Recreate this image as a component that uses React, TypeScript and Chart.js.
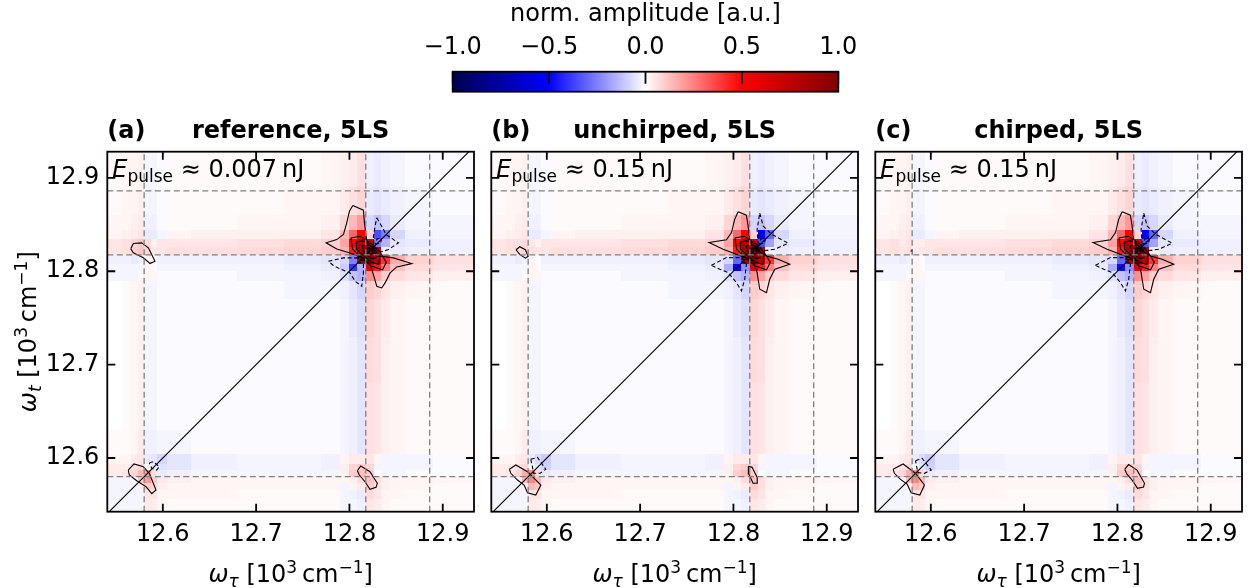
import { useEffect, useRef } from 'react';
import { Chart, registerables } from 'chart.js';
Chart.register(...registerables);

const FONT = '"DejaVu Sans", "Liberation Sans", sans-serif';

// ---------------- data ----------------
const X_LIMITS = [12.5405, 12.9335];
const Y_LIMITS = [12.5425, 12.928];
const TICK_VALUES = [12.6, 12.7, 12.8, 12.9];
const TRANSITION_LINES = [12.58, 12.8175, 12.886];
const DIAGONAL = [12.5, 13.0];
const COLORBAR_TICKS = [-1, -0.5, 0, 0.5, 1];

const PANEL_LETTERS = ['(a)', '(b)', '(c)'];
const PANEL_NAMES = ['reference, 5LS', 'unchirped, 5LS', 'chirped, 5LS'];
const PULSE_ENERGIES = ['0.007', '0.15', '0.15'];

// inner cell edges of the heat map (10^3 cm^-1), same for both axes
const CELL_EDGES = [12.556, 12.566, 12.573, 12.58, 12.587, 12.594, 12.604, 12.63, 12.68, 12.73, 12.77,
  12.79, 12.8, 12.808, 12.8175, 12.826, 12.834, 12.844, 12.86, 12.89];

// amplitude in percent; first row = top (highest omega_t), columns left -> right
const HEAT_A = [
  [1, 2, 2, 3, -2, -2, -1, 1, 1, 1, 1, 2, 3, 4, 6, -3, -4, -3, -2, -1, -1],
  [1, 2, 2, 3, -2, -2, -1, 1, 1, 1, 2, 2, 4, 6, 8, -4, -5, -4, -3, -2, -1],
  [2, 2, 3, 4, -3, -3, -1, 1, 1, 2, 2, 3, 8, 14, 20, -8, -12, -8, -4, -2, -2],
  [2, 3, 4, 5, -4, -4, -2, 2, 3, 3, 3, 5, 14, 30, 50, 8, -35, -25, -8, -3, -2],
  [5, 6, 8, 10, 7, 3, 5, 5, 5, 6, 7, 9, 18, 50, 80, 70, -25, -15, -5, -4, -3],
  [5, 6, 9, 11, 8, 5, 5, 6, 6, 7, 8, 10, 15, 45, 85, 100, 80, -3, -4, -3, -3],
  [-3, -3, -4, -3, 2, -1, -3, -3, -3, -3, -4, -5, -8, -25, 75, 95, 75, 40, 16, 9, 6],
  [-2, -2, -2, -2, 2, 1, -2, -2, -2, -2, -3, -4, -10, -40, -15, 60, 45, 25, 12, 7, 5],
  [-2, -2, -2, -1, 2, 2, -1, -1, -1, -2, -2, -3, -6, -12, -15, 22, 18, 10, 7, 5, 3],
  [0, 1, 2, 3, -2, -2, -1, -1, -1, -1, -2, -2, -3, -5, -8, 10, 8, 5, 3, 2, 1],
  [0, 1, 2, 3, -2, -2, -1, -1, -1, -1, -1, -1, -2, -4, -6, 8, 6, 4, 2, 1, 1],
  [0, 1, 2, 3, -2, -2, -1, -1, -1, -1, -1, -1, -2, -3, -5, 7, 6, 3, 2, 1, 1],
  [0, 1, 2, 3, -2, -2, -1, -1, -1, -1, -1, -1, -2, -3, -5, 6, 5, 3, 2, 1, 1],
  [1, 1, 2, 4, -3, -3, -2, -2, -1, -1, -1, -1, -2, -3, -5, 6, 5, 3, 2, 1, 1],
  [2, 2, 4, 5, -4, -5, -8, -5, -3, -2, -2, -3, 2, 4, 4, 5, 2, -2, -2, -2, -1],
  [4, 4, 6, 8, -2, -4, -6, -5, -3, -2, -2, -3, 3, 8, 10, 8, -2, -2, -2, -2, -1],
  [4, 5, 8, 14, 20, 6, -4, -3, -2, -2, -2, -2, 3, 10, 13, 10, -1, -2, -2, -1, -1],
  [-2, -2, -1, 10, 20, 10, 4, 3, 2, 2, 2, 2, 2, 3, 7, 12, 6, 3, 2, 2, 2],
  [-2, -2, -2, 3, 10, 8, 3, 2, 2, 2, 2, 2, -2, 2, 4, 10, 6, 3, 2, 2, 1],
  [-2, -2, -2, -2, 5, 5, 2, 2, 2, 1, 1, 1, -2, -3, -4, 7, 5, 2, 2, 1, 1],
  [-2, -2, -2, -2, 4, 4, 2, 1, 1, 1, 1, 1, -2, -2, -3, 5, 4, 2, 1, 1, 1],
];
// cells that differ from panel (a): [column, row from bottom, percent]
const EDITS_B = [
  [16, 17, -55], [16, 16, -35], [17, 17, -30], [17, 16, -18], [13, 13, -50], [14, 13, -22], [13, 14, -30],
  [12, 13, -16], [2, 15, 7], [3, 15, 8], [4, 15, 6], [2, 16, 6], [3, 16, 7], [4, 16, 5], [3, 4, 16],
  [4, 4, 24], [4, 3, 24], [5, 3, 14], [3, 3, 13], [4, 2, 14], [5, 2, 10], [6, 5, -9], [6, 6, -10],
  [5, 6, -7], [5, 5, -5],
];
const EDITS_C = [
  [16, 17, -52], [16, 16, -33], [17, 17, -30], [17, 16, -18], [13, 13, -48], [14, 13, -22], [13, 14, -30],
  [12, 13, -16], [2, 15, 5], [3, 15, 6], [4, 15, 4], [2, 16, 4], [3, 16, 5], [4, 16, 4], [3, 4, 16],
  [4, 4, 24], [4, 3, 24], [5, 3, 14], [3, 3, 13], [4, 2, 14], [5, 2, 10], [6, 5, -9], [6, 6, -10],
  [5, 6, -7], [5, 5, -5],
];

// contours (x = omega_tau, y = omega_t)
const A_MAIN_POS = [[12.8036, 12.8704], [12.815, 12.8654], [12.8161, 12.8518], [12.8179, 12.8375], [12.8195, 12.8265],
  [12.8295, 12.8165], [12.8472, 12.8143], [12.8668, 12.8082], [12.8507, 12.8046], [12.8436, 12.7982], [12.8382, 12.7875],
  [12.8346, 12.7821], [12.8293, 12.7839], [12.8257, 12.7964], [12.8221, 12.8071], [12.815, 12.8143], [12.8007, 12.8196],
  [12.7864, 12.8239], [12.775, 12.8304], [12.7864, 12.8339], [12.7936, 12.8393], [12.7971, 12.8518], [12.8, 12.8643]];
const A_MAIN_NEG_UR = [[12.8293, 12.8572], [12.8346, 12.8482], [12.8393, 12.8393], [12.8525, 12.8304], [12.8418, 12.8232],
  [12.8329, 12.8204], [12.8264, 12.8268], [12.8257, 12.8375], [12.8275, 12.8482]];
const A_MAIN_NEG_LL = [[12.7775, 12.8107], [12.7936, 12.8143], [12.8079, 12.8143], [12.815, 12.8107], [12.815, 12.7982],
  [12.8132, 12.7839], [12.8061, 12.7893], [12.8007, 12.7982], [12.7918, 12.8018], [12.7828, 12.8061]];
const B_MAIN_POS = [[12.805, 12.8636], [12.8139, 12.86], [12.8157, 12.8486], [12.8175, 12.8343], [12.8205, 12.8255],
  [12.8354, 12.8164], [12.8479, 12.8129], [12.8604, 12.8075], [12.8443, 12.8021], [12.8389, 12.7914], [12.8354, 12.7771],
  [12.8282, 12.7807], [12.8254, 12.7986], [12.8211, 12.8111], [12.8032, 12.8182], [12.7889, 12.8236], [12.7739, 12.8307],
  [12.7925, 12.8336], [12.7979, 12.8414], [12.8014, 12.8557]];
const B_MAIN_NEG_UR = [[12.8282, 12.8622], [12.8318, 12.8486], [12.8407, 12.8397], [12.8586, 12.83], [12.8443, 12.8236],
  [12.8318, 12.8218], [12.8264, 12.8289], [12.8254, 12.845]];
const B_MAIN_NEG_LL = [[12.7764, 12.8064], [12.7925, 12.8146], [12.8086, 12.8146], [12.8139, 12.8075], [12.8121, 12.7914],
  [12.8086, 12.7789], [12.8032, 12.7878], [12.7943, 12.7986], [12.7854, 12.8021]];
const CORE_RING_1 = [[12.8015, 12.8355], [12.8115, 12.8375], [12.8235, 12.8295], [12.8335, 12.8195], [12.8395, 12.8095],
  [12.8355, 12.8015], [12.8235, 12.8055], [12.8135, 12.8135], [12.8035, 12.8235]];
const CORE_RING_2 = [[12.8075, 12.8315], [12.8155, 12.8325], [12.8255, 12.8255], [12.8325, 12.8155], [12.8315, 12.8075],
  [12.8235, 12.8095], [12.8155, 12.8165], [12.8075, 12.8235]];
const CORE_RING_3 = [[12.8135, 12.8275], [12.8215, 12.8275], [12.8275, 12.8215], [12.8285, 12.8145], [12.8235, 12.8135],
  [12.8165, 12.8195]];
const CORE_RING_4 = [[12.8185, 12.8245], [12.8235, 12.8235], [12.8255, 12.8195], [12.8215, 12.8185]];
const CORE_NEG_LL = [[12.8095, 12.8155], [12.8145, 12.8165], [12.8165, 12.8115], [12.8115, 12.8085]];
const CORE_NEG_UR = [[12.8275, 12.8285], [12.8335, 12.8305], [12.8345, 12.8355], [12.8295, 12.8345]];

const A_CROSS_UL = [[12.5656, 12.824], [12.5684, 12.8297], [12.5774, 12.8304], [12.5845, 12.8251], [12.5916, 12.8107],
  [12.5863, 12.8083], [12.5791, 12.8144], [12.5684, 12.8197]];
const A_DIAG = [[12.563, 12.5871], [12.5691, 12.5936], [12.5791, 12.5907], [12.5855, 12.5836], [12.5927, 12.5657],
  [12.5881, 12.5618], [12.582, 12.5692], [12.572, 12.5757], [12.5641, 12.5818]];
const A_DIAG_NEG = [[12.5855, 12.595], [12.5898, 12.5961], [12.5962, 12.5907], [12.5934, 12.5871], [12.5881, 12.5889]];
const A_CROSS_LR = [[12.8085, 12.5864], [12.8121, 12.5914], [12.822, 12.5853], [12.8299, 12.5729], [12.8285, 12.5686],
  [12.822, 12.5664], [12.8167, 12.5746], [12.8106, 12.5818]];

const B_CROSS_UL = [[12.567, 12.823], [12.571, 12.8262], [12.577, 12.823], [12.58, 12.816], [12.577, 12.814], [12.571, 12.818]];
const B_DIAG = [[12.5599, 12.5879], [12.5668, 12.5925], [12.5793, 12.5853], [12.5936, 12.5711], [12.5882, 12.5603],
  [12.5793, 12.5628], [12.5757, 12.5711], [12.5686, 12.5764], [12.5614, 12.5836]];
const B_DIAG_NEG = [[12.5828, 12.5986], [12.59, 12.6007], [12.5989, 12.5879], [12.5928, 12.5836], [12.5857, 12.5836],
  [12.5846, 12.5907]];
const B_CROSS_LR = [[12.816, 12.591], [12.82, 12.59], [12.8255, 12.579], [12.8255, 12.573], [12.821, 12.573], [12.8165, 12.583]];

const C_CROSS_UL = [[12.579, 12.8225], [12.58, 12.8228], [12.5803, 12.8218], [12.5793, 12.8215]];
const C_DIAG = [[12.5596, 12.5879], [12.5703, 12.5936], [12.5836, 12.5836], [12.5932, 12.5711], [12.5882, 12.5603],
  [12.5789, 12.5628], [12.5746, 12.5721], [12.5675, 12.5771], [12.561, 12.5836]];
const C_DIAG_NEG = [[12.5836, 12.5971], [12.5907, 12.5997], [12.6004, 12.5871], [12.5932, 12.5836], [12.5861, 12.5843]];
const C_CROSS_LR = [[12.8079, 12.588], [12.812, 12.593], [12.821, 12.587], [12.829, 12.573], [12.828, 12.569],
  [12.8215, 12.5675], [12.816, 12.576], [12.81, 12.583]];

// ---------------- helpers ----------------
const SEISMIC = [[0, 0, 0, 76.5], [0.25, 0, 0, 255], [0.5, 255, 255, 255], [0.75, 255, 0, 0], [1, 127.5, 0, 0]];
function seismic(v: number) {
  const t = Math.max(0, Math.min(1, (v + 1) / 2));
  for (let i = 0; i < SEISMIC.length - 1; i++) {
    const a = SEISMIC[i], b = SEISMIC[i + 1];
    if (t <= b[0]) {
      const fr = (t - a[0]) / (b[0] - a[0]);
      const c = [1, 2, 3].map((k) => Math.round(a[k] + (b[k] - a[k]) * fr));
      return `rgb(${c[0]},${c[1]},${c[2]})`;
    }
  }
  return 'rgb(128,0,0)';
}

function applyEdits(base: number[][], edits: number[][]) {
  const g = base.map((r) => r.slice());
  const n = g.length;
  edits.forEach(([c, r, v]) => { g[n - 1 - r][c] = v; });
  return g;
}

const closed = (pts: number[][]) => [...pts, pts[0]].map(([x, y]) => ({ x, y }));

type Run = { text: string; font: string; dy?: number };
function drawRuns(ctx: CanvasRenderingContext2D, runs: Run[], x: number, y: number, center: boolean) {
  let total = 0;
  runs.forEach((r) => { ctx.font = r.font; total += ctx.measureText(r.text).width; });
  let cx = center ? x - total / 2 : x;
  ctx.textAlign = 'left';
  ctx.textBaseline = 'alphabetic';
  runs.forEach((r) => {
    ctx.font = r.font;
    ctx.fillText(r.text, cx, y + (r.dy || 0));
    cx += ctx.measureText(r.text).width;
  });
}
const f = (size: number, style = '') => `${style} ${size}px ${FONT}`.trim();

const PANELS = [
  {
    grid: HEAT_A,
    pos: [A_MAIN_POS, CORE_RING_1, CORE_RING_2, CORE_RING_3, CORE_RING_4, A_CROSS_UL, A_DIAG, A_CROSS_LR],
    neg: [A_MAIN_NEG_UR, A_MAIN_NEG_LL, CORE_NEG_LL, CORE_NEG_UR, A_DIAG_NEG],
  },
  {
    grid: applyEdits(HEAT_A, EDITS_B),
    pos: [B_MAIN_POS, CORE_RING_1, CORE_RING_2, CORE_RING_3, CORE_RING_4, B_CROSS_UL, B_DIAG, B_CROSS_LR],
    neg: [B_MAIN_NEG_UR, B_MAIN_NEG_LL, CORE_NEG_LL, CORE_NEG_UR, B_DIAG_NEG],
  },
  {
    grid: applyEdits(HEAT_A, EDITS_C),
    pos: [B_MAIN_POS, CORE_RING_1, CORE_RING_2, CORE_RING_3, CORE_RING_4, C_CROSS_UL, C_DIAG, C_CROSS_LR],
    neg: [B_MAIN_NEG_UR, B_MAIN_NEG_LL, CORE_NEG_LL, CORE_NEG_UR, C_DIAG_NEG],
  },
];

// layout (pixels)
const FRAME_LEFTS = [107.3, 491.5, 875.5];
const Y_AXIS_W = 107.3;
const CANVAS_W = 480;
const CANVAS_H = 488;
const CANVAS_TOP = 100;

function makePanelChart(canvas: HTMLCanvasElement, idx: number) {
  const p = PANELS[idx];
  const xe = [X_LIMITS[0], ...CELL_EDGES, X_LIMITS[1]];
  const ye = [Y_LIMITS[0], ...CELL_EDGES, Y_LIMITS[1]];

  const heatmap = {
    id: 'heatmap' + idx,
    beforeDatasetsDraw(chart: any) {
      const { ctx, chartArea: a, scales } = chart;
      const xs = scales.x, ys = scales.y;
      ctx.save();
      ctx.beginPath();
      ctx.rect(a.left, a.top, a.right - a.left, a.bottom - a.top);
      ctx.clip();
      const n = p.grid.length;
      for (let r = 0; r < n; r++) {
        const ri = n - 1 - r;
        const yTop = Math.round(ys.getPixelForValue(ye[ri + 1]));
        const yBot = Math.round(ys.getPixelForValue(ye[ri]));
        for (let c = 0; c < p.grid[r].length; c++) {
          const x0 = Math.round(xs.getPixelForValue(xe[c]));
          const x1 = Math.round(xs.getPixelForValue(xe[c + 1]));
          ctx.fillStyle = seismic(p.grid[r][c] / 100);
          ctx.fillRect(x0, yTop, x1 - x0, yBot - yTop);
        }
      }
      ctx.restore();
    },
  };

  const frame = {
    id: 'frame' + idx,
    afterDatasetsDraw(chart: any) {
      const { ctx, chartArea: a, scales } = chart;
      ctx.save();
      ctx.strokeStyle = '#000';
      ctx.lineWidth = 1.8;
      const L = 8;
      ctx.beginPath();
      TICK_VALUES.forEach((v) => {
        const px = scales.x.getPixelForValue(v);
        ctx.moveTo(px, a.bottom); ctx.lineTo(px, a.bottom - L);
        ctx.moveTo(px, a.top); ctx.lineTo(px, a.top + L);
        const py = scales.y.getPixelForValue(v);
        ctx.moveTo(a.left, py); ctx.lineTo(a.left + L, py);
        ctx.moveTo(a.right, py); ctx.lineTo(a.right - L, py);
      });
      ctx.stroke();
      ctx.strokeRect(a.left, a.top, a.right - a.left, a.bottom - a.top);
      ctx.restore();
    },
    afterDraw(chart: any) {
      const { ctx, chartArea: a } = chart;
      ctx.save();
      ctx.fillStyle = '#000';
      ctx.font = f(24, 'bold');
      ctx.textAlign = 'left';
      ctx.textBaseline = 'alphabetic';
      ctx.fillText(PANEL_LETTERS[idx], a.left, a.top - 14);
      ctx.textAlign = 'center';
      ctx.fillText(PANEL_NAMES[idx], (a.left + a.right) / 2, a.top - 14);
      drawRuns(ctx, [
        { text: 'E', font: f(24, 'italic') },
        { text: 'pulse', font: f(17), dy: 5 },
        { text: ' \u2248 ' + PULSE_ENERGIES[idx] + '\u2009nJ', font: f(24) },
      ], a.left + 5, a.top + 25, false);
      drawRuns(ctx, [
        { text: '\u03c9', font: f(24, 'italic') },
        { text: '\u03c4', font: f(17, 'italic'), dy: 5 },
        { text: ' [10', font: f(24) },
        { text: '3', font: f(17), dy: -9 },
        { text: '\u2009cm', font: f(24) },
        { text: '\u22121', font: f(17), dy: -9 },
        { text: ']', font: f(24) },
      ], (a.left + a.right) / 2, a.bottom + 70, true);
      if (idx === 0) {
        ctx.translate(36, (a.top + a.bottom) / 2);
        ctx.rotate(-Math.PI / 2);
        drawRuns(ctx, [
          { text: '\u03c9', font: f(24, 'italic') },
          { text: 't', font: f(17, 'italic'), dy: 5 },
          { text: ' [10', font: f(24) },
          { text: '3', font: f(17), dy: -9 },
          { text: '\u2009cm', font: f(24) },
          { text: '\u22121', font: f(17), dy: -9 },
          { text: ']', font: f(24) },
        ], 0, 0, true);
      }
      ctx.restore();
    },
  };

  const datasets: any[] = [];
  const dashedGray = { borderColor: '#808080', borderWidth: 1.3, borderDash: [6, 3.5] };
  TRANSITION_LINES.forEach((v) => {
    datasets.push({ data: [{ x: v, y: Y_LIMITS[0] }, { x: v, y: Y_LIMITS[1] }], ...dashedGray });
    datasets.push({ data: [{ x: X_LIMITS[0], y: v }, { x: X_LIMITS[1], y: v }], ...dashedGray });
  });
  datasets.push({ data: DIAGONAL.map((v) => ({ x: v, y: v })), borderColor: '#000', borderWidth: 1.1 });
  p.pos.forEach((c) => datasets.push({ data: closed(c), borderColor: '#000', borderWidth: 1.1 }));
  p.neg.forEach((c) => datasets.push({ data: closed(c), borderColor: '#000', borderWidth: 1.1, borderDash: [4, 2.5] }));
  datasets.forEach((d) => { d.showLine = true; d.pointRadius = 0; d.fill = false; d.tension = 0; });

  const tickFont = { family: FONT, size: 24 };
  return new Chart(canvas, {
    type: 'scatter',
    data: { datasets },
    options: {
      responsive: false,
      animation: false,
      events: [],
      layout: { padding: { top: 51.7, right: CANVAS_W - Y_AXIS_W - 366.7, left: 0, bottom: 0 } },
      plugins: { legend: { display: false }, tooltip: { enabled: false } },
      scales: {
        x: {
          type: 'linear', min: X_LIMITS[0], max: X_LIMITS[1],
          grid: { display: false, drawTicks: false }, border: { display: false },
          ticks: { font: tickFont, color: '#000', padding: 9, maxRotation: 0, autoSkip: false,
            callback: (v: any) => Number(v).toFixed(1) },
          afterBuildTicks: (s: any) => { s.ticks = TICK_VALUES.map((v) => ({ value: v })); },
          afterFit: (s: any) => { s.height = 76.3; },
        },
        y: {
          type: 'linear', min: Y_LIMITS[0], max: Y_LIMITS[1],
          grid: { display: false, drawTicks: false }, border: { display: false },
          ticks: { display: idx === 0, font: tickFont, color: '#000', padding: 8, autoSkip: false,
            callback: (v: any) => Number(v).toFixed(1) },
          afterBuildTicks: (s: any) => { s.ticks = TICK_VALUES.map((v) => ({ value: v })); },
          afterFit: (s: any) => { s.width = Y_AXIS_W; },
        },
      },
    } as any,
    plugins: [heatmap, frame],
  });
}

const CB_LEFT = 380;
const CB_W = 530;
const CB_H = 100;

function makeColorbar(canvas: HTMLCanvasElement) {
  const plugin = {
    id: 'cbar',
    beforeDatasetsDraw(chart: any) {
      const { ctx, chartArea: a } = chart;
      const g = ctx.createLinearGradient(a.left, 0, a.right, 0);
      SEISMIC.forEach((s) => g.addColorStop(s[0], `rgb(${s[1]},${s[2]},${s[3]})`));
      ctx.save();
      ctx.fillStyle = g;
      ctx.fillRect(a.left, a.top, a.right - a.left, a.bottom - a.top);
      ctx.restore();
    },
    afterDraw(chart: any) {
      const { ctx, chartArea: a, scales } = chart;
      ctx.save();
      ctx.strokeStyle = '#000';
      ctx.lineWidth = 1.8;
      ctx.beginPath();
      COLORBAR_TICKS.forEach((v) => {
        const px = scales.x.getPixelForValue(v);
        ctx.moveTo(px, a.top);
        ctx.lineTo(px, a.top + 12);
      });
      ctx.stroke();
      ctx.strokeRect(a.left, a.top, a.right - a.left, a.bottom - a.top);
      ctx.restore();
    },
  };
  return new Chart(canvas, {
    type: 'scatter',
    data: { datasets: [] },
    options: {
      responsive: false,
      animation: false,
      events: [],
      layout: { padding: { left: 72.7, right: CB_W - 458.3, top: 0, bottom: CB_H - 91.7 } },
      plugins: { legend: { display: false }, tooltip: { enabled: false } },
      scales: {
        x: {
          type: 'linear', position: 'top', min: -1, max: 1,
          grid: { display: false, drawTicks: false }, border: { display: false },
          ticks: { font: { family: FONT, size: 24 }, color: '#000', padding: 10, maxRotation: 0, autoSkip: false,
            callback: (v: any) => (Number(v) < 0 ? '\u2212' : '') + Math.abs(Number(v)).toFixed(1) },
          afterBuildTicks: (s: any) => { s.ticks = COLORBAR_TICKS.map((v) => ({ value: v })); },
          title: { display: true, text: 'norm. amplitude [a.u.]', color: '#000',
            font: { family: FONT, size: 24 }, padding: { top: 0, bottom: 0 } },
          afterFit: (s: any) => { s.height = 71.7; },
        },
        y: { display: false, min: 0, max: 1 },
      },
    } as any,
    plugins: [plugin],
  });
}

export default function App() {
  const cbRef = useRef<HTMLCanvasElement>(null);
  const r0 = useRef<HTMLCanvasElement>(null);
  const r1 = useRef<HTMLCanvasElement>(null);
  const r2 = useRef<HTMLCanvasElement>(null);

  useEffect(() => {
    const charts: Chart[] = [];
    [r0, r1, r2].forEach((r, i) => { if (r.current) charts.push(makePanelChart(r.current, i)); });
    if (cbRef.current) charts.push(makeColorbar(cbRef.current));
    return () => charts.forEach((c) => c.destroy());
  }, []);

  const refs = [r0, r1, r2];
  return (
    <div style={{ position: 'absolute', left: 0, top: 0, width: 1250, height: 588, background: '#fff', overflow: 'hidden' }}>
      <canvas ref={cbRef} width={CB_W} height={CB_H}
        style={{ position: 'absolute', left: CB_LEFT, top: 0, width: CB_W, height: CB_H }} />
      {refs.map((r, i) => (
        <canvas key={i} ref={r} width={CANVAS_W} height={CANVAS_H}
          style={{ position: 'absolute', left: FRAME_LEFTS[i] - Y_AXIS_W, top: CANVAS_TOP, width: CANVAS_W, height: CANVAS_H }} />
      ))}
    </div>
  );
}
